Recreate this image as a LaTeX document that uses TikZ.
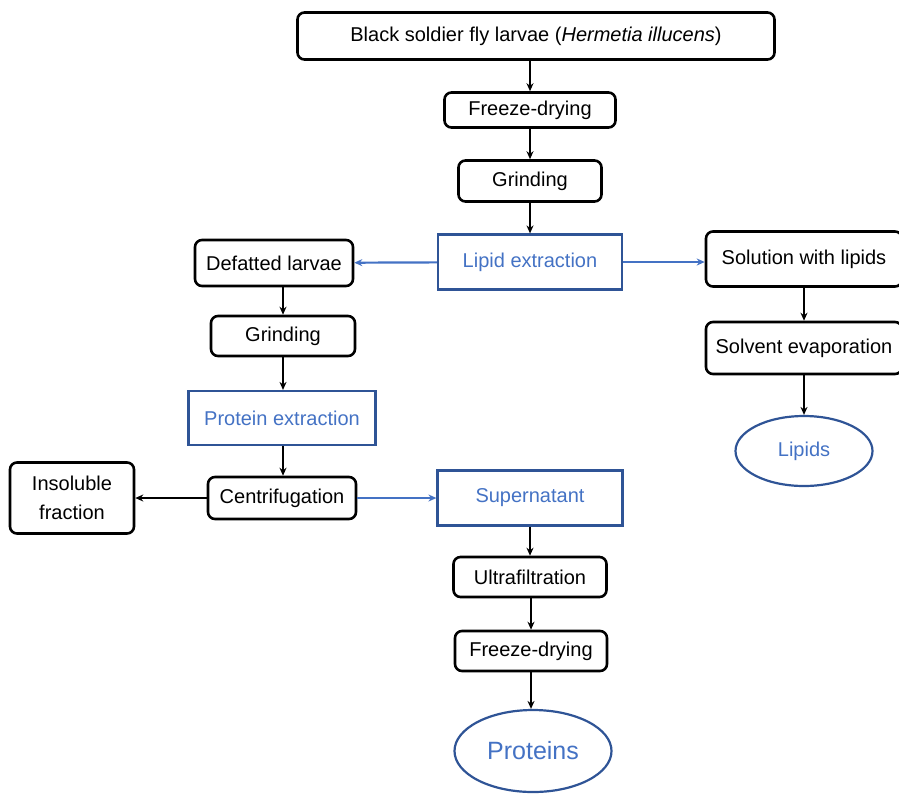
\documentclass[tikz,border=0pt]{standalone}
\usepackage{fontspec}
\setmainfont{Liberation Sans}
\usetikzlibrary{shapes.geometric,arrows.meta}
\definecolor{bborder}{RGB}{47,84,150}
\definecolor{btext}{RGB}{68,114,196}
\tikzset{
  blk/.style={draw=black, line width=2.6pt, rounded corners=7pt, inner sep=0pt, align=center, font=\fontsize{20}{29}\selectfont},
  blu/.style={draw=bborder, line width=2.2pt, inner sep=0pt, align=center, text=btext, font=\fontsize{20}{24}\selectfont},
  ell/.style={draw=bborder, line width=2.2pt, ellipse, inner sep=0pt, text=btext},
  arr/.style={line width=2.2pt, -{Stealth[length=8pt,width=7pt]}},
  barr/.style={arr, draw=btext, color=btext},
}
\begin{document}
\begin{tikzpicture}[x=1pt,y=-1pt]
\useasboundingbox (0,0) rectangle (899,793);
\node[blk, minimum width=477pt, minimum height=47pt] (bsf) at (536,36) {Black soldier fly larvae (\textit{Hermetia illucens})};
\node[blk, minimum width=171pt, minimum height=35pt] (fd1) at (530,110) {Freeze-drying};
\node[blk, minimum width=143pt, minimum height=41pt] (gr1) at (530,181) {Grinding};
\node[blu, minimum width=184pt, minimum height=55pt] (lip) at (530,262) {Lipid extraction};
\node[blk, minimum width=158pt, minimum height=46pt] (def) at (274,263) {Defatted larvae};
\node[blk, minimum width=196pt, minimum height=55pt] (sol) at (804,259) {Solution with lipids};
\node[blk, minimum width=196pt, minimum height=52pt] (sev) at (804,348) {Solvent evaporation};
\node[ell, minimum width=137pt, minimum height=70pt, font=\fontsize{20}{24}\selectfont] (lipids) at (804,451) {Lipids};
\node[blk, minimum width=144pt, minimum height=40pt] (gr2) at (283,336) {Grinding};
\node[blu, minimum width=187pt, minimum height=54pt] (pex) at (282,418) {Protein extraction};
\node[blk, minimum width=148pt, minimum height=42pt] (cen) at (282,498) {Centrifugation};
\node[blk, minimum width=124pt, minimum height=71pt] (ins) at (72,498) {Insoluble\\fraction};
\node[blu, minimum width=185pt, minimum height=55pt] (sup) at (530,498) {Supernatant};
\node[blk, minimum width=153pt, minimum height=40pt] (ult) at (530,577) {Ultrafiltration};
\node[blk, minimum width=152pt, minimum height=40pt] (fd2) at (531,651) {Freeze-drying};
\node[ell, minimum width=157pt, minimum height=82pt, font=\fontsize{25}{30}\selectfont] (prot) at (533,751) {Proteins};
\draw[arr] (bsf.south -| fd1) -- (fd1);
\draw[arr] (fd1) -- (gr1);
\draw[arr] (gr1) -- (lip);
\draw[barr] (lip) -- (def);
\draw[barr] (lip.east) -- (sol.west |- lip.east);
\draw[arr] (def.south -| gr2) -- (gr2);
\draw[arr] (gr2) -- (gr2 |- pex.north);
\draw[arr] (pex.south -| gr2) -- (cen.north -| gr2);
\draw[arr] (cen) -- (ins);
\draw[barr] (cen) -- (sup);
\draw[arr] (sup) -- (ult);
\draw[arr] (ult.south -| fd2) -- (fd2);
\draw[arr] (fd2.south) -- (prot.north -| fd2);
\draw[arr] (sol) -- (sev);
\draw[arr] (sev) -- (lipids);
\end{tikzpicture}
\end{document}
